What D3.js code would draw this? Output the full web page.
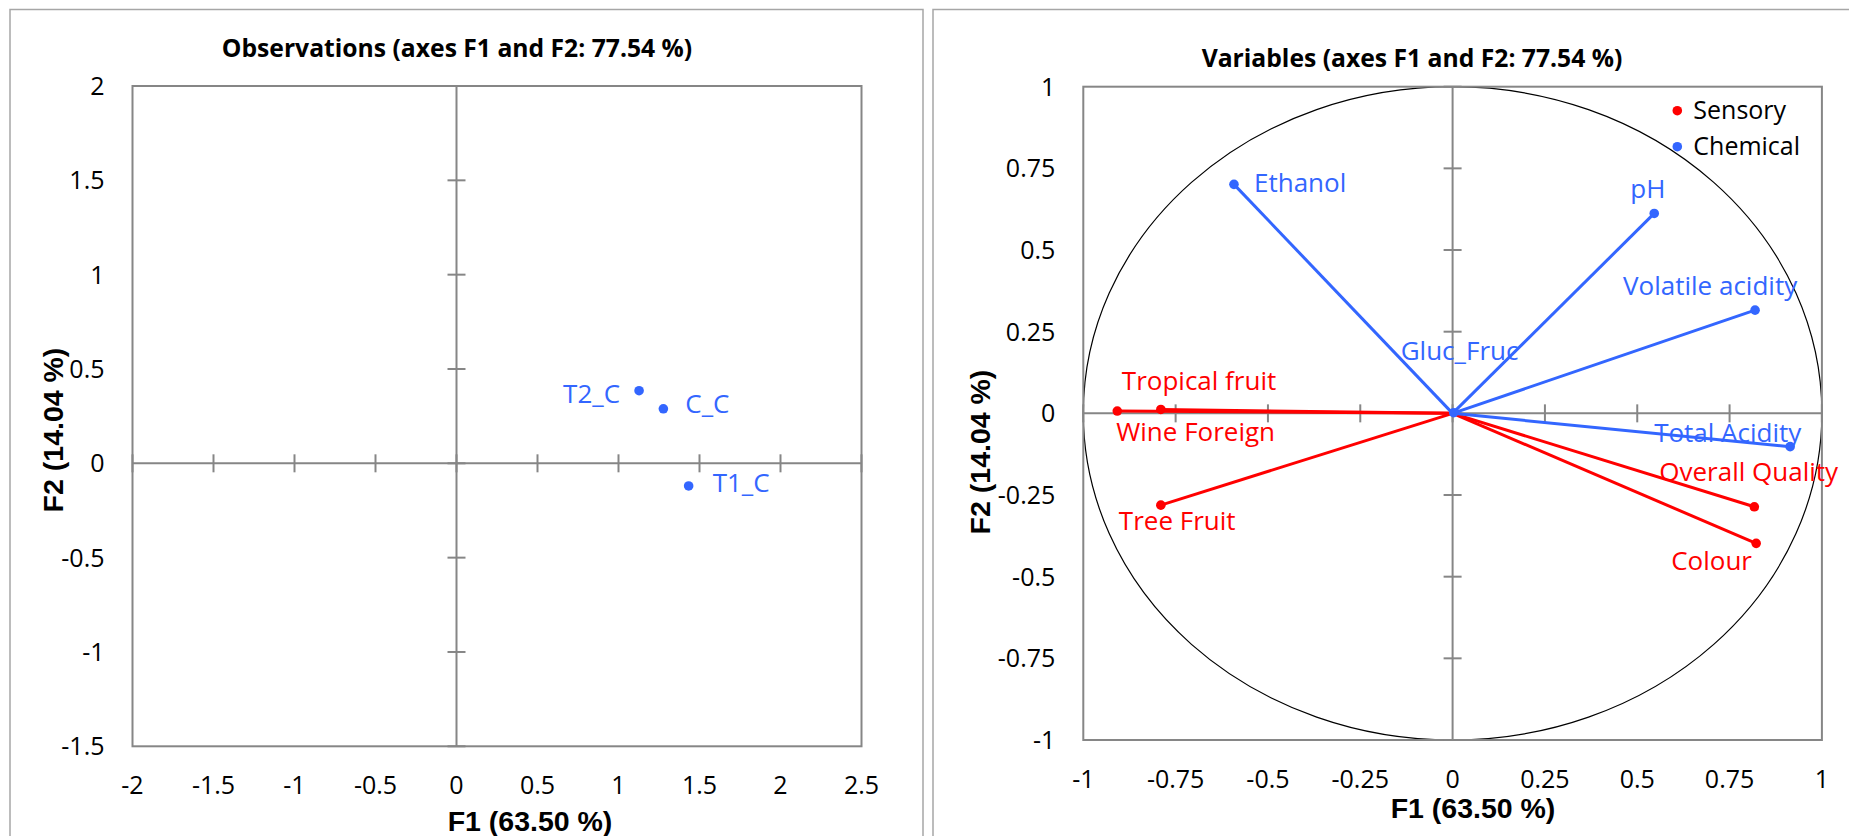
<!DOCTYPE html>
<html><head><meta charset="utf-8">
<script src="https://cdn.jsdelivr.net/npm/d3@7"></script>
<style>
html,body{margin:0;padding:0;background:#fff;}
svg{display:block;}
text{font-family:"Open Sans",sans-serif;}
</style></head>
<body>
<svg id="chart" width="1849" height="836"></svg>
<script>
// ---------- DATA ----------
const obsNames = ["T2_C", "C_C", "T1_C"];
const obsF1 = [1.127, 1.277, 1.433];
const obsF2 = [0.385, 0.289, -0.120];
const obsTicksX = [-2, -1.5, -1, -0.5, 0, 0.5, 1, 1.5, 2, 2.5];
const obsTicksY = [-1.5, -1, -0.5, 0, 0.5, 1, 1.5, 2];

const varNames = ["Tropical fruit", "Wine Foreign", "Tree Fruit", "Overall Quality", "Colour",
                  "Ethanol", "pH", "Volatile acidity", "Total Acidity", "Gluc_Fruc"];
const varGroup = ["Sensory", "Sensory", "Sensory", "Sensory", "Sensory",
                  "Chemical", "Chemical", "Chemical", "Chemical", "Chemical"];
const varF1 = [-0.790, -0.908, -0.790, 0.817, 0.822, -0.592, 0.546, 0.819, 0.914, 0.003];
const varF2 = [0.012, 0.007, -0.281, -0.286, -0.398, 0.701, 0.612, 0.316, -0.102, 0.002];
const varTicks = [-1, -0.75, -0.5, -0.25, 0, 0.25, 0.5, 0.75, 1];
const groups = ["Sensory", "Chemical"];

const titleObs = "Observations (axes F1 and F2: 77.54 %)";
const titleVar = "Variables (axes F1 and F2: 77.54 %)";
const labelF1 = "F1 (63.50 %)";
const labelF2 = "F2 (14.04 %)";

// ---------- STYLE / LAYOUT ----------
const groupColor = {Sensory: "#ff0000", Chemical: "#3366ff"};
const axisGray = "#868686";
const fmt = d => String(d);
// label offsets (px) relative to marker: [dx, dy, anchor]
const obsLabelPos = {"T2_C": [-19, 12, "end"], "C_C": [22, 4, "start"], "T1_C": [24, 6, "start"]};
const varLabelPos = {
  "Tropical fruit": [-39, -19, "start"], "Wine Foreign": [-1, 30, "start"],
  "Tree Fruit": [-42, 25, "start"], "Overall Quality": [-95, -26, "start"],
  "Colour": [-85, 27, "start"], "Ethanol": [20, 8, "start"], "pH": [-24, -15, "start"],
  "Volatile acidity": [-132, -15, "start"], "Total Acidity": [-136, -5, "start"],
  "Gluc_Fruc": [-53, -53, "start"]
};

const svg = d3.select("#chart");

// panel borders
svg.append("rect").attr("x", 10).attr("y", 9.5).attr("width", 913).attr("height", 900)
  .attr("fill", "none").attr("stroke", "#a6a6a6").attr("stroke-width", 1.5);
svg.append("rect").attr("x", 933).attr("y", 9.5).attr("width", 1000).attr("height", 900)
  .attr("fill", "none").attr("stroke", "#a6a6a6").attr("stroke-width", 1.5);

function drawFrame(g, x, y, ticksX, ticksY, opt) {
  const [x0, x1] = x.range(), [y0, y1] = y.range();
  // plot border
  g.append("rect").attr("x", x0).attr("y", y1).attr("width", x1 - x0).attr("height", y0 - y1)
    .attr("fill", "none").attr("stroke", axisGray).attr("stroke-width", 2);
  // zero lines
  g.append("line").attr("x1", x0).attr("x2", x1).attr("y1", y(0)).attr("y2", y(0))
    .attr("stroke", axisGray).attr("stroke-width", 2);
  g.append("line").attr("x1", x(0)).attr("x2", x(0)).attr("y1", y0).attr("y2", y1)
    .attr("stroke", axisGray).attr("stroke-width", 2);
  // cross ticks
  g.selectAll(".tx").data(ticksX).join("line")
    .attr("x1", d => x(d)).attr("x2", d => x(d)).attr("y1", y(0) - 9).attr("y2", y(0) + 9)
    .attr("stroke", axisGray).attr("stroke-width", 2);
  g.selectAll(".ty").data(ticksY).join("line")
    .attr("y1", d => y(d)).attr("y2", d => y(d)).attr("x1", x(0) - 9).attr("x2", x(0) + 9)
    .attr("stroke", axisGray).attr("stroke-width", 2);
  // tick labels
  g.append("g").selectAll("text").data(ticksX).join("text")
    .attr("x", d => x(d)).attr("y", y0 + 47.6).attr("text-anchor", "middle")
    .attr("font-size", 25).attr("fill", "#000").text(fmt);
  g.append("g").selectAll("text").data(ticksY).join("text")
    .attr("x", x0 - 28).attr("y", d => y(d)).attr("dy", "0.36em").attr("text-anchor", "end")
    .attr("font-size", 25).attr("fill", "#000").text(fmt);
  // titles
  g.append("text").attr("x", opt.titleX).attr("y", opt.titleY).attr("text-anchor", "middle")
    .attr("font-size", 24.7).attr("font-weight", "bold").attr("fill", "#000").text(opt.title);
  g.append("text").attr("x", opt.f1X).attr("y", opt.f1Y).attr("text-anchor", "middle")
    .style("font-family", "'Liberation Sans', Arial, sans-serif")
    .attr("font-size", 28.5).attr("font-weight", "bold").attr("fill", "#000").text(labelF1);
  g.append("text").attr("transform", `translate(${opt.f2X},${opt.f2Y}) rotate(-90)`)
    .attr("text-anchor", "middle")
    .style("font-family", "'Liberation Sans', Arial, sans-serif")
    .attr("font-size", 28.5).attr("font-weight", "bold").attr("fill", "#000").text(labelF2);
}

// ---------- LEFT: Observations ----------
const xL = d3.scaleLinear().domain([-2, 2.5]).range([132.5, 861.5]);
const yL = d3.scaleLinear().domain([-1.5, 2]).range([746.3, 86]);
const gL = svg.append("g");
drawFrame(gL, xL, yL, obsTicksX, obsTicksY,
  {title: titleObs, titleX: 457, titleY: 57, f1X: 530, f1Y: 831, f2X: 63, f2Y: 430});

const obs = obsNames.map((n, i) => ({name: n, x: obsF1[i], y: obsF2[i]}));
gL.selectAll(".obs").data(obs).join("circle")
  .attr("cx", d => xL(d.x)).attr("cy", d => yL(d.y)).attr("r", 4.8).attr("fill", "#3366ff");
gL.selectAll(".obsl").data(obs).join("text")
  .attr("x", d => xL(d.x) + obsLabelPos[d.name][0])
  .attr("y", d => yL(d.y) + obsLabelPos[d.name][1])
  .attr("text-anchor", d => obsLabelPos[d.name][2])
  .attr("font-size", 26).attr("fill", "#3366ff").text(d => d.name);

// ---------- RIGHT: Variables ----------
const xR = d3.scaleLinear().domain([-1, 1]).range([1083.3, 1821.9]);
const yR = d3.scaleLinear().domain([-1, 1]).range([740, 86.7]);
const gR = svg.append("g");
gR.append("ellipse").attr("cx", xR(0)).attr("cy", yR(0))
  .attr("rx", xR(1) - xR(0)).attr("ry", yR(0) - yR(1))
  .attr("fill", "none").attr("stroke", "#000").attr("stroke-width", 1.2);
drawFrame(gR, xR, yR, varTicks, varTicks,
  {title: titleVar, titleX: 1412, titleY: 67, f1X: 1473, f1Y: 818, f2X: 990, f2Y: 452});

const vars = varNames.map((n, i) => ({name: n, g: varGroup[i], x: varF1[i], y: varF2[i]}));
const ordered = groups.flatMap(gr => vars.filter(v => v.g === gr));
gR.selectAll(".vl").data(ordered).join("line")
  .attr("x1", xR(0)).attr("y1", yR(0))
  .attr("x2", d => xR(d.x)).attr("y2", d => yR(d.y))
  .attr("stroke", d => groupColor[d.g]).attr("stroke-width", 3);
gR.selectAll(".vp").data(ordered).join("circle")
  .attr("cx", d => xR(d.x)).attr("cy", d => yR(d.y)).attr("r", 4.8)
  .attr("fill", d => groupColor[d.g]);
gR.selectAll(".vt").data(ordered).join("text")
  .attr("x", d => xR(d.x) + varLabelPos[d.name][0])
  .attr("y", d => yR(d.y) + varLabelPos[d.name][1])
  .attr("text-anchor", d => varLabelPos[d.name][2])
  .attr("font-size", 26).attr("fill", d => groupColor[d.g]).text(d => d.name);

// legend
const lg = gR.append("g");
lg.selectAll("circle").data(groups).join("circle")
  .attr("cx", 1677.3).attr("cy", (d, i) => 110.7 + i * 36).attr("r", 4.8)
  .attr("fill", d => groupColor[d]);
lg.selectAll("text").data(groups).join("text")
  .attr("x", 1693.3).attr("y", (d, i) => 118.5 + i * 36)
  .attr("font-size", 25).attr("fill", "#000").text(d => d);
</script>
</body></html>
